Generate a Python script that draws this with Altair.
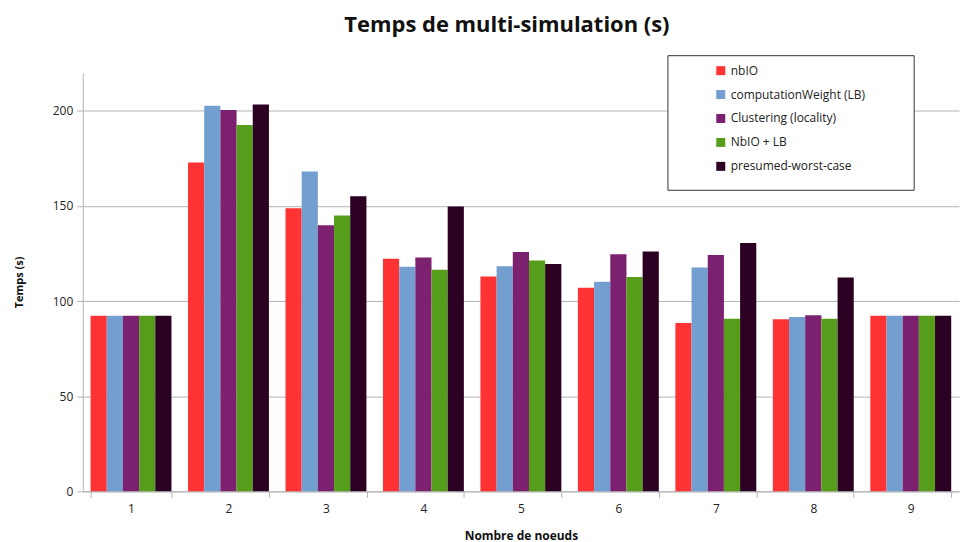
import altair as alt
import pandas as pd

groups = ["1", "2", "3", "4", "5", "6", "7", "8", "9"]
series = ["nbIO", "computationWeight (LB)", "Clustering (locality)", "NbIO + LB", "presumed-worst-case"]
colors = ["#ff3333", "#729fcf", "#7b216f", "#579d1c", "#2b0022"]

nbio = [92.3, 172.8, 148.8, 122.2, 112.9, 107.0, 88.5, 90.4, 92.3]
comp_weight = [92.3, 202.6, 168.0, 118.0, 118.3, 110.1, 117.6, 91.6, 92.3]
clustering = [92.3, 200.4, 139.8, 122.9, 125.8, 124.6, 124.2, 92.5, 92.3]
nbio_lb = [92.3, 192.5, 144.9, 116.4, 121.3, 112.6, 90.7, 90.7, 92.3]
worst = [92.3, 203.3, 155.0, 149.7, 119.4, 126.0, 130.5, 112.4, 92.3]

values = [nbio, comp_weight, clustering, nbio_lb, worst]
rows = []
for s, vals in zip(series, values):
    for g, v in zip(groups, vals):
        rows.append({"noeuds": g, "serie": s, "temps": v})
df = pd.DataFrame(rows)

FONT = "Open Sans"

bars = alt.Chart(df).mark_bar(strokeWidth=0).encode(
    x=alt.X("noeuds:N", sort=groups, title="Nombre de noeuds",
            scale=alt.Scale(paddingInner=0.17, paddingOuter=0.08),
            axis=alt.Axis(labelAngle=0, tickBand="extent", domainColor="#b3b3b3",
                          tickColor="#b3b3b3", tickSize=6, labelPadding=6,
                          labelFontSize=12, labelColor="#222222",
                          titleFontSize=12, titleFontWeight="bold", titlePadding=16,
                          titleColor="#111111", grid=False)),
    xOffset=alt.XOffset("serie:N", sort=series, scale=alt.Scale(paddingInner=0, paddingOuter=0)),
    y=alt.Y("temps:Q", title="Temps (s)",
            scale=alt.Scale(domain=[0, 220], nice=False),
            axis=alt.Axis(values=[0, 50, 100, 150, 200], gridColor="#b3b3b3",
                          domainColor="#b3b3b3", tickColor="#b3b3b3", tickSize=6,
                          labelFontSize=12, labelColor="#222222", labelPadding=4,
                          titleFontSize=11, titleFontWeight="bold", titlePadding=28,
                          titleColor="#111111")),
    color=alt.Color("serie:N", sort=series,
                    scale=alt.Scale(domain=series, range=colors),
                    legend=alt.Legend(title=None, orient="none", legendX=601, legendY=-8,
                                      symbolType="square", symbolSize=81,
                                      symbolStrokeWidth=0, symbolOffset=33,
                                      labelFontSize=12, labelFont=FONT,
                                      labelColor="#222222", rowPadding=12,
                                      padding=0)),
)

box = alt.Chart(pd.DataFrame({"k": [0]})).mark_rect(
    fill="white", stroke="#333333", strokeWidth=1
).encode(
    x=alt.value(587), x2=alt.value(834), y=alt.value(-17), y2=alt.value(118)
)

chart = alt.layer(box, bars).properties(
    width=879, height=420,
    title=alt.TitleParams("Temps de multi-simulation (s)", fontSize=22, font=FONT,
                          fontWeight="bold", color="#111111", anchor="middle",
                          dx=-14, offset=18),
).configure_view(stroke=None).configure_axis(labelFont=FONT, titleFont=FONT)

chart.save("out.html", embed_options={"renderer": "svg", "actions": False})
